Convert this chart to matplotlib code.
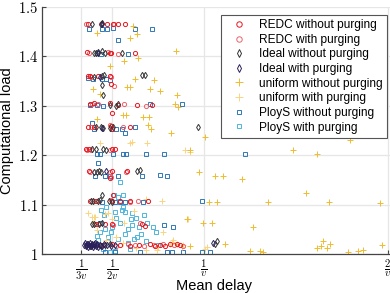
import matplotlib
matplotlib.use("Agg")
import matplotlib.pyplot as plt

plt.rcParams['font.family'] = ['Liberation Sans', 'DejaVu Sans']
plt.rcParams['mathtext.fontset'] = 'cm'

# mean delay (in units of 1/v), computational load
redc_x = [0.370, 0.473, 0.505, 0.533, 0.571,
          0.364, 0.489, 0.495, 0.625,
          0.370, 0.380, 0.424, 0.489, 0.495,
          0.380, 0.402, 0.489, 0.533, 0.636, 0.717, 0.500,
          0.370, 0.402, 0.495, 0.598, 0.500,
          0.359, 0.375, 0.500, 0.516,
          0.375, 0.500, 0.582, 0.489,
          0.380, 0.413, 0.500, 0.543, 0.598, 0.696, 0.505,
          0.413, 0.462, 0.500, 0.663, 0.679,
          0.435, 0.500, 0.543, 0.598, 0.647, 0.707, 0.734, 0.761, 0.788,
          0.815, 0.870, 0.853]
redc_y = [1.466, 1.466, 1.466, 1.466, 1.466,
          1.409, 1.407, 1.407, 1.407,
          1.360, 1.360, 1.360, 1.360, 1.344,
          1.304, 1.306, 1.306, 1.302, 1.302, 1.302, 1.285,
          1.257, 1.257, 1.259, 1.257, 1.253,
          1.213, 1.213, 1.213, 1.213,
          1.168, 1.168, 1.168, 1.154,
          1.107, 1.107, 1.107, 1.107, 1.107, 1.107, 1.120,
          1.061, 1.061, 1.061, 1.061, 1.057,
          1.018, 1.020, 1.018, 1.016, 1.018, 1.020, 1.016, 1.018, 1.016,
          1.020, 1.018, 1.020]

redc_p_x = [0.359, 0.440, 0.511,
            0.375, 0.478, 0.533,
            0.386, 0.495, 0.511,
            0.391, 0.424, 0.565, 0.685,
            0.386, 0.489, 0.560,
            0.364, 0.386, 0.489,
            0.380, 0.489, 0.576, 0.495,
            0.402, 0.495, 0.598, 0.641,
            0.424, 0.505, 0.652,
            0.457, 0.522, 0.587, 0.625, 0.674, 0.728, 0.777, 0.837, 0.886]
redc_p_y = [1.466, 1.466, 1.466,
            1.407, 1.409, 1.405,
            1.358, 1.358, 1.340,
            1.304, 1.304, 1.304, 1.300,
            1.257, 1.261, 1.257,
            1.211, 1.211, 1.211,
            1.166, 1.166, 1.166, 1.156,
            1.107, 1.109, 1.105, 1.107,
            1.061, 1.059, 1.063,
            1.018, 1.016, 1.020, 1.018, 1.016, 1.018, 1.020, 1.018, 1.016]

ideal_x = [0.391, 0.440, 0.446,
           0.402, 0.413, 0.424, 0.446, 0.462, 0.554,
           0.402, 0.446, 0.457, 0.663, 0.679, 0.446, 0.451,
           0.489, 0.522, 0.532,
           0.413, 0.440, 0.451, 0.489, 0.505, 0.967,
           0.391, 0.413, 0.451, 0.467,
           0.402, 0.418, 0.429, 0.440, 0.636, 0.652,
           0.386, 0.397, 0.424, 0.435, 0.484, 0.500, 0.446,
           0.391, 0.402, 0.429, 0.446,
           0.359, 0.370, 0.380, 0.391, 0.402, 0.418, 0.440, 0.462, 0.489,
           1.060, 1.071]
ideal_y = [1.466, 1.466, 1.468,
           1.407, 1.407, 1.409, 1.411, 1.407, 1.407,
           1.358, 1.360, 1.362, 1.362, 1.362, 1.342, 1.322,
           1.302, 1.300, 1.304,
           1.257, 1.257, 1.255, 1.255, 1.257, 1.257,
           1.213, 1.213, 1.213, 1.211,
           1.166, 1.166, 1.168, 1.166, 1.168, 1.170,
           1.107, 1.107, 1.107, 1.109, 1.107, 1.105, 1.120,
           1.061, 1.061, 1.061, 1.063,
           1.018, 1.020, 1.016, 1.018, 1.020, 1.018, 1.016, 1.018, 1.020,
           1.020, 1.026]

ideal_p_x = [0.446, 0.424, 0.435, 0.446, 0.467,
             0.348, 0.353, 0.359, 0.364, 0.370, 0.375, 0.380, 0.386, 0.391,
             0.397, 0.402, 0.408, 0.413, 0.418, 0.424, 0.435, 0.446, 0.457,
             0.473, 0.495, 0.516, 1.049]
ideal_p_y = [1.466, 1.407, 1.358, 1.255, 1.168,
             1.018, 1.022, 1.016, 1.020, 1.014, 1.018, 1.022, 1.016, 1.020,
             1.014, 1.018, 1.022, 1.016, 1.020, 1.014, 1.018, 1.016, 1.020,
             1.018, 1.016, 1.018, 1.022]

unif_x = [0.614, 0.636, 0.418, 0.598, 0.848, 0.565, 0.641,
          0.489, 0.625, 0.728, 0.582, 0.598, 0.397, 0.707, 0.761, 0.853, 0.435,
          0.842, 0.859, 0.560, 0.576, 0.668, 0.701, 0.696, 0.712, 0.821, 0.418,
          1.005, 0.924, 1.484, 1.614, 1.793,
          0.973, 1.060, 1.103, 1.207, 1.554,
          1.027, 1.071, 1.348, 1.679, 1.957,
          0.995, 1.043, 1.266, 0.908,
          0.924, 1.114, 1.250, 1.304, 1.321, 1.614, 1.636, 1.647, 1.668,
          1.685, 1.783, 1.837, 1.864, 1.967]
unif_y = [1.462, 1.445, 1.447, 1.437, 1.411, 1.391, 1.397,
          1.381, 1.354, 1.352, 1.338, 1.338, 1.334, 1.334, 1.330, 1.322, 1.324,
          1.304, 1.298, 1.281, 1.281, 1.277, 1.277, 1.261, 1.253, 1.245, 1.273,
          1.237, 1.211, 1.211, 1.202, 1.231,
          1.166, 1.158, 1.158, 1.152, 1.124,
          1.105, 1.105, 1.105, 1.105, 1.103,
          1.063, 1.063, 1.055, 1.071,
          1.016, 1.020, 1.006, 1.006, 1.004, 1.012, 1.016, 1.026, 1.012,
          1.020, 1.004, 1.006, 1.008, 1.018]

unif_p_x = [0.370, 0.391, 0.462, 0.418, 0.397, 0.402, 0.408, 0.478,
            0.745, 0.777, 0.815, 0.832, 0.886, 0.913, 0.685, 0.772,
            0.435, 0.598, 0.609, 0.690, 0.897, 0.924,
            0.826, 0.853, 0.880, 1.005, 1.016,
            0.467, 0.522, 0.560, 0.630, 0.685, 0.750,
            0.500, 0.620, 0.565]
unif_p_y = [1.083, 1.075, 1.081, 1.049, 1.063, 1.075, 1.075, 1.083,
            1.008, 1.045, 1.020, 1.028, 1.018, 1.071, 1.111, 1.107,
            1.225, 1.225, 1.227, 1.225, 1.211, 1.206,
            1.024, 1.020, 1.014, 1.010, 1.014,
            1.028, 1.035, 1.022, 1.012, 1.008, 1.014,
            1.071, 1.088, 1.063]

ploys_x = [0.375, 0.446, 0.473, 0.505, 0.625, 0.717, 0.533,
           0.418, 0.440, 0.587,
           0.370, 0.397, 0.446, 0.467, 0.489,
           0.380, 0.418, 0.451, 0.707, 0.880,
           0.391, 0.402, 0.500, 0.522, 0.554, 0.571, 0.625,
           0.418, 0.435, 0.505, 0.560, 0.576, 0.685, 0.783, 1.223,
           0.424, 0.408, 0.462, 0.489, 0.533, 0.663, 0.761, 0.799,
           0.446, 0.516, 0.543, 0.571, 0.668, 0.989,
           0.783, 0.832, 0.435,
           0.462, 0.516, 0.652, 0.799, 0.826, 0.886, 0.989, 1.033]
ploys_y = [1.455, 1.455, 1.455, 1.457, 1.455, 1.455, 1.433,
           1.407, 1.405, 1.405,
           1.356, 1.354, 1.354, 1.354, 1.352,
           1.302, 1.302, 1.300, 1.304, 1.304,
           1.265, 1.253, 1.253, 1.253, 1.253, 1.245, 1.257,
           1.202, 1.202, 1.202, 1.202, 1.202, 1.202, 1.202, 1.202,
           1.184, 1.158, 1.158, 1.158, 1.158, 1.158, 1.160, 1.158,
           1.105, 1.105, 1.105, 1.105, 1.105, 1.107,
           1.059, 1.055, 1.063,
           1.004, 1.004, 1.004, 1.004, 1.004, 1.004, 1.004, 1.004]

ploys_p_x = [0.543, 0.467, 0.516, 0.571, 0.609, 0.630, 0.435, 0.543, 0.609,
             0.647, 0.723, 0.435, 0.495, 0.571, 0.636, 0.424, 0.478, 0.587,
             0.489, 0.516, 0.451, 0.478, 0.500, 0.522, 0.554, 0.587, 0.620,
             0.658, 0.690, 0.740, 0.457, 0.533, 0.560, 0.598, 0.685, 0.750,
             0.418, 0.440, 0.511, 0.462, 0.532, 0.560, 0.604, 0.674]
ploys_p_y = [1.146, 1.095, 1.085, 1.085, 1.083, 1.073, 1.063, 1.063, 1.059,
             1.055, 1.055, 1.045, 1.045, 1.041, 1.035, 1.028, 1.024, 1.022,
             1.004, 1.006, 1.010, 1.035, 1.055, 1.073, 1.090, 1.050, 1.030,
             1.040, 1.063, 1.045, 1.080, 1.115, 1.095, 1.010, 1.026, 1.018,
             1.036, 1.090, 1.120, 1.050, 1.030, 1.120, 1.070, 1.078]

xticks = [1 / 3, 1 / 2, 1, 2]
xticklabels = [r'$\frac{1}{3v}$', r'$\frac{1}{2v}$', r'$\frac{1}{v}$', r'$\frac{2}{v}$']
yticks = [1.0, 1.1, 1.2, 1.3, 1.4, 1.5]
yticklabels = [r'$1$', r'$1.1$', r'$1.2$', r'$1.3$', r'$1.4$', r'$1.5$']

fig = plt.figure(figsize=(3.9, 2.93), dpi=100)
ax = fig.add_axes([0.108, 0.133, 0.892, 0.843])

series = [
    (ploys_p_x, ploys_p_y, 's', '#4DB6DC', 2.3, 'PloyS with purging'),
    (ploys_x, ploys_y, 's', '#2F78B8', 2.3, 'PloyS without purging'),
    (unif_p_x, unif_p_y, '+', '#F8D582', 4.2, 'uniform with purging'),
    (unif_x, unif_y, '+', '#F0BC2E', 4.2, 'uniform without purging'),
    (redc_p_x, redc_p_y, 'o', '#F0606A', 3.0, 'REDC with purging'),
    (redc_x, redc_y, 'o', '#E8161E', 3.0, 'REDC without purging'),
    (ideal_x, ideal_y, 'd', '#333333', 3.2, 'Ideal without purging'),
    (ideal_p_x, ideal_p_y, 'd', '#2B1F5C', 3.2, 'Ideal with purging'),
]
handles = {}
for xs, ys, m, c, ms, lab in series:
    h, = ax.plot(xs, ys, linestyle='none', marker=m, markersize=ms,
                 markerfacecolor='none', markeredgecolor=c,
                 markeredgewidth=0.7, label=lab)
    handles[lab] = h

order = ['REDC without purging', 'REDC with purging', 'Ideal without purging',
         'Ideal with purging', 'uniform without purging', 'uniform with purging',
         'PloyS without purging', 'PloyS with purging']
leg = ax.legend([handles[k] for k in order], order, loc='upper right',
                bbox_to_anchor=(0.991, 0.968), fontsize=8.6, frameon=True,
                fancybox=False, edgecolor='#555555', framealpha=1,
                borderpad=0.35, labelspacing=0.22, handletextpad=0.6,
                handlelength=2.2, markerscale=1.3, borderaxespad=0)
leg.get_frame().set_linewidth(0.8)

ax.set_xlim(0.12, 2.011)
ax.set_ylim(1.0, 1.5)
ax.set_xticks(xticks)
ax.set_xticklabels(xticklabels, fontsize=11)
ax.set_yticks(yticks)
ax.set_yticklabels(yticklabels, fontsize=10.5)
ax.tick_params(direction='in', length=3, width=0.8, color='#444444', pad=3)
ax.tick_params(axis='x', pad=2)
ax.grid(True, color='#e6e6e6', linewidth=0.9)
ax.set_axisbelow(True)
for s in ['top', 'right']:
    ax.spines[s].set_visible(False)
for s in ['left', 'bottom']:
    ax.spines[s].set_color('#444444')
    ax.spines[s].set_linewidth(0.9)

ax.set_xlabel('Mean delay', fontsize=10.5)
ax.xaxis.set_label_coords(0.494, -0.103)
ax.set_ylabel('Computational load', fontsize=10.5, labelpad=3)

fig.savefig('out.png', dpi=100)
